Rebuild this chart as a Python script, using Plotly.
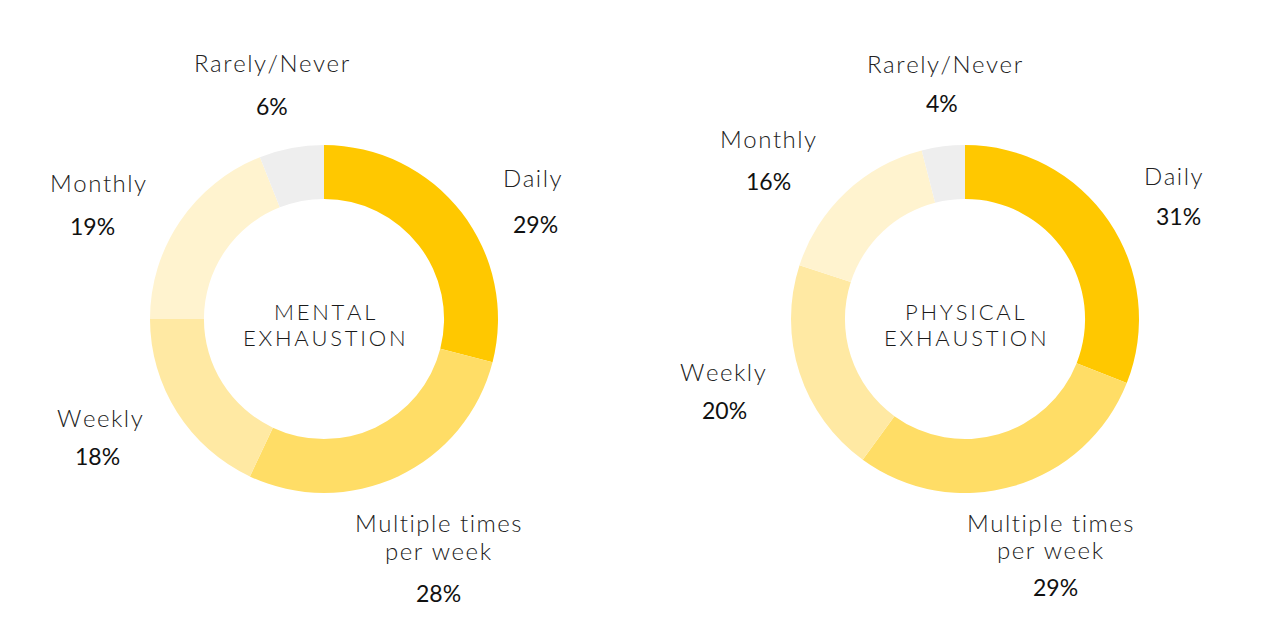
import plotly.graph_objects as go

categories = ["Daily", "Multiple times per week", "Weekly", "Monthly", "Rarely/Never"]
mental_values = [29, 28, 18, 19, 6]
physical_values = [31, 29, 20, 16, 4]
colors = ["#FFC800", "#FFDD66", "#FFE9A3", "#FFF3CF", "#EEEEEE"]
chart_titles = [["MENTAL", "EXHAUSTION"], ["PHYSICAL", "EXHAUSTION"]]
label_lines = {
    "Daily": ["Daily"],
    "Multiple times per week": ["Multiple times", "per week"],
    "Weekly": ["Weekly"],
    "Monthly": ["Monthly"],
    "Rarely/Never": ["Rarely/Never"],
}

W, H = 1275, 637
FONT = "Lato"
OFF = 8  # page body margin compensation


def px(x, y):
    return (x - OFF) / W, 1 - (y - OFF) / H


def spaced(t, sep="\u200a"):
    return sep.join(t)


fig = go.Figure()
centers = [(324, 319), (965, 319)]
R = 174
for vals, (cx, cy) in zip([mental_values, physical_values], centers):
    x0, y1 = px(cx - R, cy - R)
    x1, y0 = px(cx + R, cy + R)
    fig.add_trace(go.Pie(
        labels=categories, values=vals, hole=0.69, sort=False,
        direction="clockwise", rotation=0,
        marker=dict(colors=colors, line=dict(width=0)),
        textinfo="none", hoverinfo="label+percent", showlegend=False,
        domain=dict(x=[x0, x1], y=[y0, y1]),
    ))

# label positions (pixels): name line centres and percentage centre
positions = [
    {
        "Rarely/Never": ([(272, 62)], (272, 106)),
        "Monthly": ([(98, 182)], (92, 226)),
        "Daily": ([(532, 177)], (535, 224)),
        "Weekly": ([(100, 417)], (97, 456)),
        "Multiple times per week": ([(438, 522), (438, 550)], (439, 593)),
    },
    {
        "Rarely/Never": ([(945, 63)], (942, 103)),
        "Monthly": ([(768, 138)], (768, 181)),
        "Daily": ([(1173, 175)], (1178, 216)),
        "Weekly": ([(723, 371)], (724, 410)),
        "Multiple times per week": ([(1050, 522), (1050, 549)], (1055, 587)),
    },
]

ann = []
for vals, pos in zip([mental_values, physical_values], positions):
    for cat, v in zip(categories, vals):
        name_pos, pct_pos = pos[cat]
        for line, (lx, ly) in zip(label_lines[cat], name_pos):
            ax, ay = px(lx, ly)
            ann.append(dict(x=ax, y=ay, xref="paper", yref="paper", showarrow=False,
                            text=spaced(line), xanchor="center", yanchor="middle",
                            font=dict(family=FONT, size=24, color="#222222", weight=300)))
        ax, ay = px(*pct_pos)
        ann.append(dict(x=ax, y=ay, xref="paper", yref="paper", showarrow=False,
                        text=f"{v}%", xanchor="center", yanchor="middle",
                        font=dict(family=FONT, size=23, color="#111111")))

for (cx, cy), lines in zip(centers, chart_titles):
    for line, dy in zip(lines, [-8, 18]):
        ax, ay = px(cx, cy + dy)
        ann.append(dict(x=ax, y=ay, xref="paper", yref="paper", showarrow=False,
                        text=spaced(line, "\u2009"), xanchor="center", yanchor="middle",
                        font=dict(family=FONT, size=22, color="#1a1a1a", weight=300)))

fig.update_layout(
    width=W, height=H, margin=dict(l=0, r=0, t=0, b=0),
    paper_bgcolor="white", plot_bgcolor="white",
    annotations=ann,
)
fig.write_html("out.html")
